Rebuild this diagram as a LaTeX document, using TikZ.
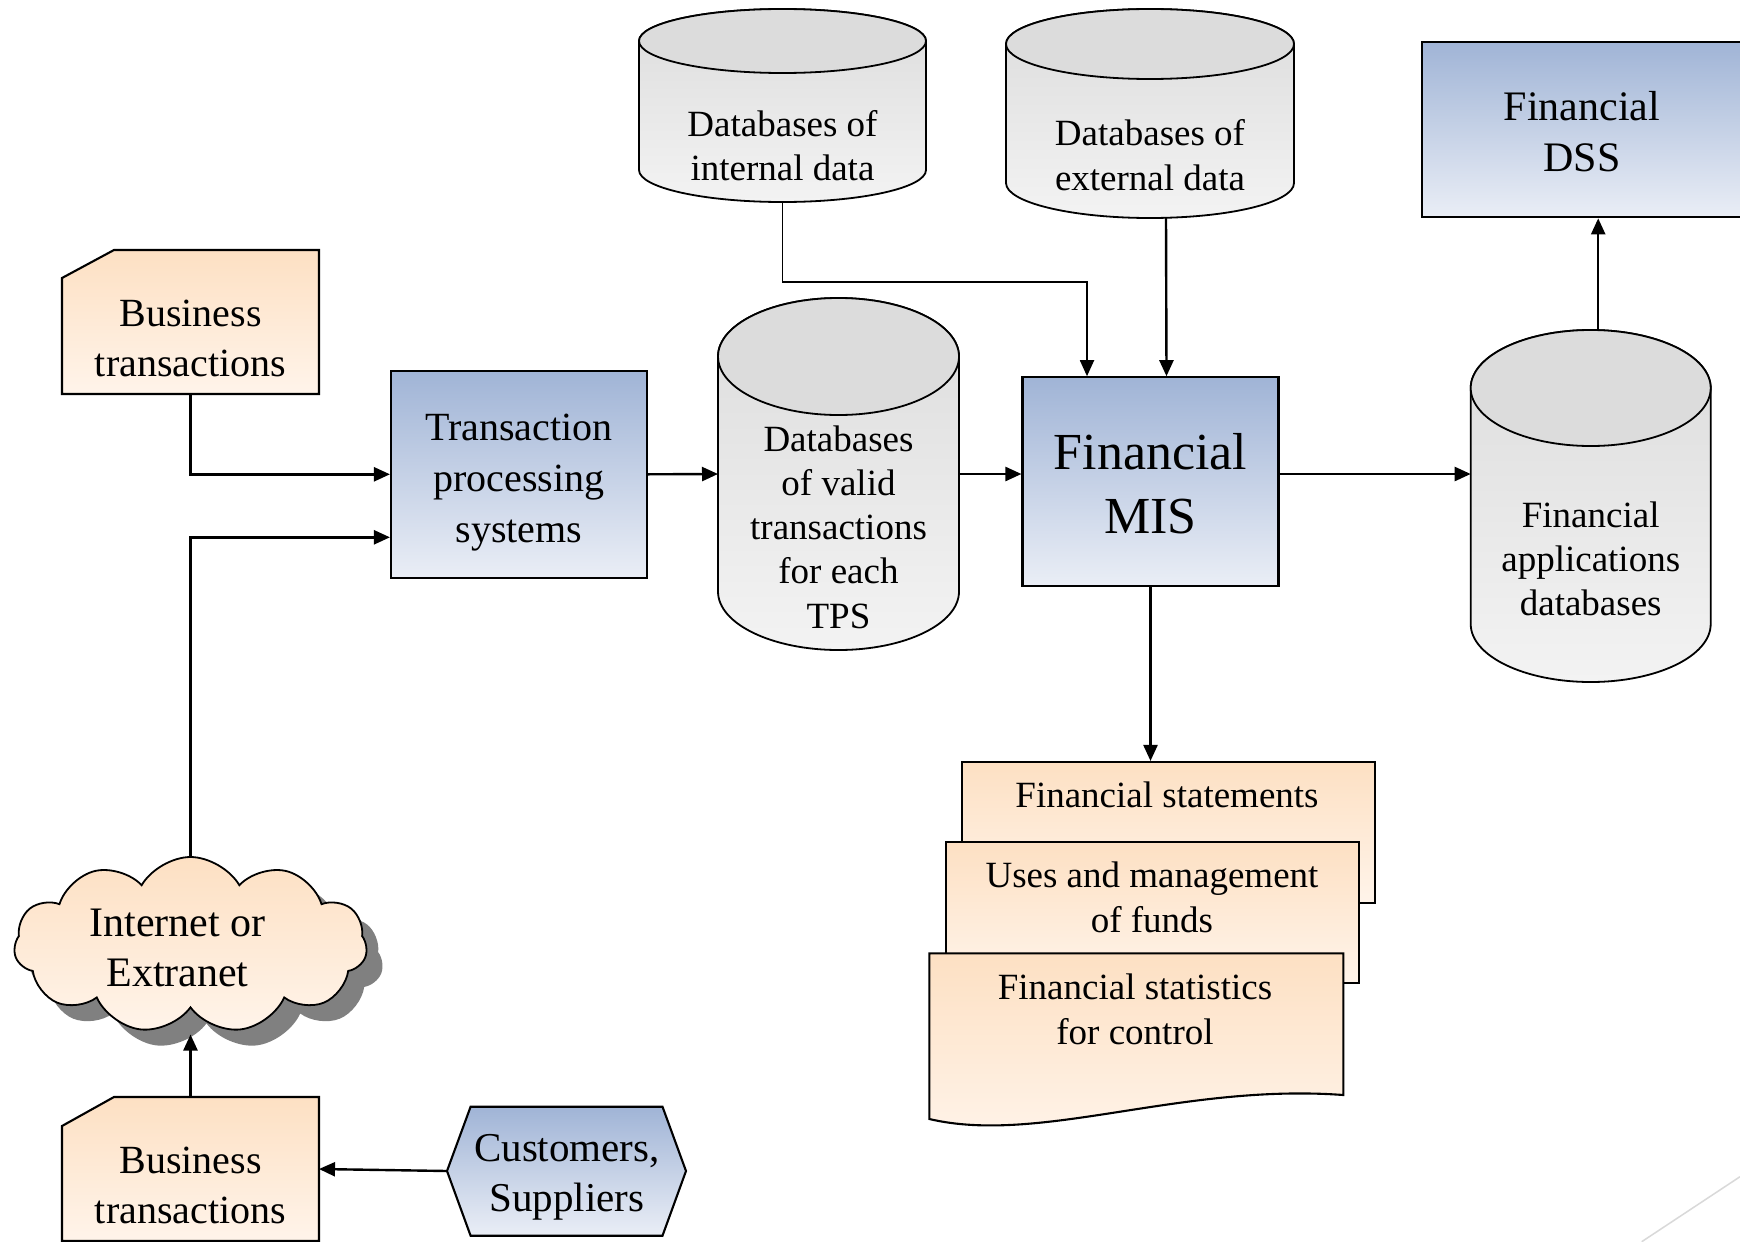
\documentclass[tikz,border=0pt]{standalone}
\usepackage{fontspec}
\setmainfont{Liberation Serif}
\usetikzlibrary{arrows.meta,shapes.symbols,shadows}

\definecolor{blueTop}{RGB}{160,180,214}
\definecolor{blueBot}{RGB}{234,238,246}
\definecolor{orTop}{RGB}{253,224,195}
\definecolor{orBot}{RGB}{255,244,234}
\definecolor{drumTop}{RGB}{220,220,220}
\definecolor{drumBot}{RGB}{243,243,243}
\definecolor{shadowGray}{RGB}{128,128,128}
\definecolor{decoGray}{RGB}{217,217,217}

% database drum: name, left, right, top, bottom, lid radius (all in px, y downwards)
\newcommand\dbdrum[6]{%
  \path[drum] (#2,-#4-#6) -- (#2,-#5+#6)
    arc[start angle=180,end angle=360,x radius={(#3-#2)/2},y radius=#6]
    -- (#3,-#4-#6)
    arc[start angle=0,end angle=180,x radius={(#3-#2)/2},y radius=#6] -- cycle;
  \path[drumlid] ({(#2+#3)/2},-#4-#6) ellipse[x radius={(#3-#2)/2},y radius=#6];
  \node[anchorbox, minimum width={(#3-#2)*1pt}, minimum height={(#5-#4)*1pt}]
    (#1) at ({(#2+#3)/2},{-(#4+#5)/2}) {};
}

\begin{document}
\begin{tikzpicture}[x=1pt,y=1pt,
  outline/.style={draw=black, line width=2.1pt},
  bluebox/.style={outline, top color=blueTop, bottom color=blueBot, inner sep=0pt, rectangle},
  orangebox/.style={outline, top color=orTop, bottom color=orBot, inner sep=0pt, rectangle},
  anchorbox/.style={draw=none, inner sep=0pt, outer sep=0pt, rectangle},
  drum/.style={draw=black, line width=1.8pt, top color=drumTop, bottom color=drumBot},
  drumlid/.style={draw=black, line width=1.8pt, fill=drumTop},
  txt/.style={inner sep=0pt, outer sep=0pt, align=center, text=black},
  fsz/.style 2 args={font=\fontsize{#1}{#2}\selectfont},
  flow/.style={line width=2.4pt, -{Triangle[length=16pt,width=14pt]}},
]
\clip (0,0) rectangle (1740,-1242);
\fill[white] (0,0) rectangle (1740,-1242);

% ---- business transactions cards ----
\path[orangebox] (62,-278) -- (114,-250) -- (319,-250) -- (319,-394) -- (62,-394) -- cycle;
\node[anchorbox, minimum width=257pt, minimum height=144pt] (bt1) at (190.5,-322) {};
\node[txt, fsz={40}{50}] (bt1t) at (190.5,-338) {Business\\transactions};

\path[orangebox] (62,-1126) -- (114,-1097) -- (319,-1097) -- (319,-1241) -- (62,-1241) -- cycle;
\node[anchorbox, minimum width=257pt, minimum height=144pt] (bt2) at (190.5,-1169) {};
\node[txt, fsz={40}{50}] (bt2t) at (190.5,-1185) {Business\\transactions};

% ---- customers, suppliers ----
\path[outline, top color=blueTop, bottom color=blueBot]
  (447,-1171) -- (470.6,-1106.7) -- (662.5,-1106.7) -- (686,-1171)
  -- (662.5,-1235.7) -- (470.6,-1235.7) -- cycle;
\node[anchorbox, minimum width=239pt, minimum height=129pt] (cust) at (566.5,-1171) {};
\node[txt, fsz={41}{50}] (custt) at (567,-1177) {Customers,\\Suppliers};

% ---- internet cloud ----
\node[cloud, cloud puffs=11, cloud puff arc=120, aspect=2, inner sep=0pt,
      minimum width=353pt, minimum height=176pt,
      outline, line width=1.8pt, top color=orTop, bottom color=orBot,
      drop shadow={shadow xshift=16pt, shadow yshift=-16pt, fill=shadowGray, opacity=1}]
  (cloud) at (190.5,-945) {};
\node[anchorbox, minimum width=353pt, minimum height=178pt] (cloudbox) at (190.5,-945.5) {};
\node[txt, fsz={42}{50}] (cloudt) at (177.5,-948) {Internet or\\Extranet};

% ---- processing boxes ----
\node[bluebox, minimum width=256pt, minimum height=207.5pt] (tps) at (519,-474.3) {};
\node[txt, fsz={40}{51}] (tpst) at (519,-483) {Transaction\\processing\\systems};

\node[bluebox, minimum width=256pt, minimum height=208.7pt] (mis) at (1150.5,-481.6) {};
\node[txt, fsz={52}{64}] (mist) at (1150.5,-483.6) {Financial\\MIS};

\node[bluebox, minimum width=320pt, minimum height=175.6pt] (dss) at (1582,-129.5) {};
\node[txt, fsz={42}{51.5}] (dsst) at (1582,-131.5) {Financial\\DSS};

% ---- databases ----
\dbdrum{intdb}{639}{926}{9}{202}{32}
\node[txt, fsz={37}{44.5}] (intdbt) at (782.5,-145.7) {Databases of\\internal data};

\dbdrum{extdb}{1006}{1294}{9}{218}{35}
\node[txt, fsz={37}{45}] (extdbt) at (1150,-155.2) {Databases of\\external data};

\dbdrum{valid}{718}{959}{298}{650}{58.5}
\node[txt, fsz={37}{44.2}] (validt) at (838.5,-527) {Databases\\of valid\\transactions\\for each\\TPS};

\dbdrum{apps}{1470.7}{1710.7}{330}{682}{58}
\node[txt, fsz={37}{44}] (appst) at (1590.7,-558.8) {Financial\\applications\\databases};

% ---- output reports ----
\node[orangebox, minimum width=413pt, minimum height=141pt] (fs) at (1168.5,-832.5) {};
\node[txt, fsz={37}{45}] (fst) at (1167,-795) {Financial statements};

\node[orangebox, minimum width=413.3pt, minimum height=141pt] (uses) at (1152.4,-912.2) {};
\node[txt, fsz={37}{45}] (usest) at (1152,-897.5) {Uses and management\\of funds};

\path[outline, top color=orTop, bottom color=orBot]
  (929.3,-953.3) -- (1343.3,-953.3) -- (1343.3,-1095)
  .. controls (1180,-1083) and (1040,-1145) .. (929.3,-1119) -- cycle;
\node[anchorbox, minimum width=414pt, minimum height=170pt] (stats) at (1136.3,-1038) {};
\node[txt, fsz={37}{45.5}] (statst) at (1135,-1009.5) {Financial statistics\\for control};

% ---- connectors ----
\draw[flow] (bt1.south) |- (tps.west);
\draw[flow] (cloudbox.north) |- ([yshift=-63pt]tps.west);
\draw[flow] (bt2.north) -- (cloudbox.south);
\draw[flow] (cust.west) -- (bt2.east);
\draw[flow] (tps.east) -- (valid.west);
\draw[flow] (valid.east) -- (valid.east -| mis.west);
\draw[flow, line width=1.9pt] (intdb.south) -- ++(0,-79.7) -| ([xshift=-63.5pt]mis.north);
\draw[flow] ([xshift=16pt]extdb.south) -- ([xshift=16pt]mis.north);
\draw[flow] (mis.east |- valid.east) -- (apps.west |- valid.east);
\draw[flow] (mis.south) -- (mis.south |- fs.north);
\draw[flow] ([xshift=7.5pt]apps.north) -- ([xshift=7.5pt]apps.north |- dss.south);

% ---- corner ornament ----
\draw[line width=1.5pt, decoGray] (1740,-1176.7) -- (1641.7,-1241.7);
\end{tikzpicture}
\end{document}
